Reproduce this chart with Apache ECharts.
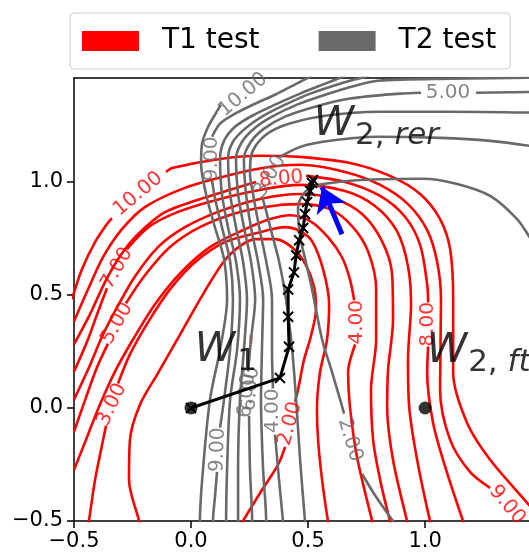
<!DOCTYPE html>
<html><head><meta charset="utf-8">
<script src="https://cdn.jsdelivr.net/npm/echarts@6/dist/echarts.min.js"></script>
<style>html,body{margin:0;padding:0;background:#fff}#c{width:529px;height:559px}</style>
</head><body><div id="c"></div>
<script>
// ---- T1 test (red) contour segments, data coordinates ----
const redL10a = [[-0.509,0.481],[-0.466,0.614],[-0.410,0.734],[-0.359,0.814],[-0.338,0.840]];
const redL10b = [[-0.107,1.044],[-0.081,1.062],[0.124,1.102],[0.295,1.116],[0.466,1.111],[0.679,1.084],[0.850,1.027],[0.979,0.947],[1.064,0.836],[1.107,0.703],[1.120,0.481],[1.120,0.157],[1.179,-0.065],[1.278,-0.229],[1.444,-0.429],[1.513,-0.518]];
const redL9 = [[-0.5,0.383],[-0.440,0.525],[-0.376,0.667],[-0.295,0.791],[-0.197,0.889],[-0.026,0.974],[0.167,1.031],[0.338,1.067],[0.466,1.076],[0.658,1.044],[0.808,0.987],[0.927,0.902],[1.009,0.787],[1.051,0.649],[1.068,0.481],[1.064,0.081],[1.107,-0.141],[1.192,-0.283],[1.278,-0.354]];
const redL8a = [[-0.5,0.281],[-0.432,0.414],[-0.368,0.556],[-0.303,0.672],[-0.231,0.765],[-0.111,0.867],[0.081,0.938],[0.278,1.000]];
const redL8b = [[0.491,1.027],[0.658,1.000],[0.808,0.938],[0.915,0.845],[0.979,0.721],[1.009,0.547],[1.013,0.467]];
const redL8c = [[1.013,0.272],[1.009,0.157],[1.034,-0.065],[1.090,-0.274],[1.162,-0.5],[1.175,-0.540]];
const redL7a = [[-0.5,0.161],[-0.444,0.294],[-0.397,0.427],[-0.359,0.530]];
const redL7b = [[-0.274,0.703],[-0.175,0.805],[-0.047,0.871],[0.124,0.925],[0.316,0.969],[0.466,0.987],[0.658,0.960],[0.786,0.894],[0.880,0.782],[0.927,0.627],[0.940,0.459],[0.927,0.214],[0.932,0.006],[0.966,-0.229],[1.021,-0.5],[1.034,-0.540]];
const redL6 = [[-0.5,0.037],[-0.440,0.170],[-0.380,0.316],[-0.316,0.445],[-0.239,0.583],[-0.141,0.712],[-0.026,0.800],[0.124,0.871],[0.295,0.925],[0.466,0.947],[0.615,0.925],[0.731,0.858],[0.816,0.738],[0.859,0.592],[0.863,0.392],[0.842,0.170],[0.838,0.006],[0.863,-0.229],[0.923,-0.5],[0.936,-0.540]];
const redL5a = [[-0.5,-0.105],[-0.449,0.046],[-0.402,0.179],[-0.355,0.285]];
const redL5b = [[-0.278,0.463],[-0.197,0.587],[-0.090,0.712],[0.038,0.800],[0.209,0.867],[0.380,0.898],[0.466,0.902],[0.594,0.880],[0.688,0.805],[0.756,0.694],[0.791,0.525],[0.791,0.303],[0.769,0.081],[0.778,-0.141],[0.808,-0.318],[0.850,-0.5],[0.863,-0.540]];
const redL4a = [[-0.5,-0.274],[-0.449,-0.141],[-0.389,0.015],[-0.325,0.161],[-0.248,0.303],[-0.154,0.459],[-0.047,0.596],[0.081,0.712],[0.231,0.791],[0.338,0.836],[0.423,0.853],[0.509,0.827],[0.585,0.756],[0.645,0.667],[0.679,0.569],[0.697,0.476]];
const redL4b = [[0.701,0.281],[0.671,0.157],[0.679,0.006],[0.709,-0.216],[0.774,-0.5],[0.786,-0.540]];
const redL3a = [[-0.440,-0.540],[-0.436,-0.5],[-0.410,-0.318],[-0.380,-0.163],[-0.363,-0.078]];
const redL3b = [[-0.312,0.108],[-0.261,0.237],[-0.184,0.379],[-0.090,0.525],[0.017,0.645],[0.145,0.734],[0.295,0.778],[0.402,0.800],[0.466,0.782],[0.517,0.738],[0.564,0.614],[0.590,0.459],[0.581,0.303],[0.551,0.157],[0.538,-0.008],[0.543,-0.145],[0.560,-0.318],[0.585,-0.5],[0.594,-0.540]];
const redL2a = [[-0.214,-0.540],[-0.222,-0.5],[-0.265,-0.318],[-0.261,-0.141],[-0.218,0.015],[-0.145,0.148],[-0.047,0.325],[0.051,0.503],[0.141,0.649],[0.209,0.716],[0.274,0.747],[0.359,0.747],[0.436,0.707],[0.491,0.632],[0.526,0.534],[0.534,0.437],[0.513,0.321],[0.483,0.214],[0.457,0.081],[0.444,0.028]];
const redL2b = [[0.402,-0.172],[0.372,-0.251],[0.303,-0.363],[0.222,-0.5],[0.201,-0.540]];
const redL1 = [[0.256,0.321],[0.256,0.285]];

const t1LabelText = ['10.00','7.00','5.00','3.00','2.00','4.00','8.00','8.00','9.00'];
const t1LabelPos = [[-0.226,0.947],[-0.316,0.618],[-0.316,0.374],[-0.338,0.015],[0.423,-0.069],[0.709,0.379],[1.013,0.370],[0.385,1.013],[1.350,-0.429]];
const t1LabelAngle = [40,60,60,65,75,90,90,5,-50];

// ---- T2 test (gray) contour segments ----
const grayG10 = [[0.038,-0.540],[0.038,-0.5],[0.051,-0.274],[0.081,0.037],[0.124,0.259],[0.154,0.481],[0.141,0.658],[0.098,0.814],[0.064,0.947],[0.043,1.080],[0.047,1.169],[0.073,1.244],[0.107,1.306],[0.128,1.342]];
const grayG9a = [[0.094,-0.540],[0.094,-0.5],[0.103,-0.385],[0.111,-0.283]];
const grayG9b = [[0.124,-0.087],[0.141,0.037],[0.167,0.259],[0.179,0.481],[0.167,0.649],[0.132,0.800],[0.103,0.925],[0.090,1.005]];
const grayG9c = [[0.090,1.200],[0.124,1.258],[0.188,1.302],[0.274,1.346],[0.359,1.386],[0.444,1.431],[0.509,1.466],[0.530,1.480]];
const grayG8 = [[0.150,-0.540],[0.150,-0.5],[0.154,-0.274],[0.167,0.037],[0.197,0.259],[0.209,0.481],[0.192,0.649],[0.158,0.800],[0.132,0.947],[0.124,1.102],[0.141,1.182],[0.188,1.244],[0.261,1.293],[0.359,1.342],[0.466,1.391],[0.573,1.435],[0.658,1.470]];
const grayG7 = [[0.201,-0.540],[0.201,-0.5],[0.201,-0.274],[0.209,0.037],[0.226,0.259],[0.239,0.481],[0.222,0.649],[0.192,0.800],[0.167,0.947],[0.158,1.102],[0.179,1.178],[0.231,1.236],[0.303,1.289],[0.402,1.342],[0.509,1.391],[0.637,1.435],[0.744,1.466],[0.786,1.480]];
const grayG6a = [[0.261,-0.540],[0.261,-0.5],[0.252,-0.274],[0.248,-0.034]];
const grayG6b = [[0.244,0.161],[0.256,0.303],[0.274,0.481],[0.256,0.649],[0.226,0.800],[0.201,0.947],[0.192,1.102],[0.218,1.178],[0.269,1.236],[0.346,1.289],[0.453,1.342],[0.573,1.386],[0.701,1.426],[0.799,1.448],[1.107,1.457],[1.513,1.462]];
const grayG5a = [[0.321,-0.540],[0.321,-0.5],[0.308,-0.274],[0.299,0.037],[0.303,0.259],[0.308,0.481],[0.286,0.649],[0.256,0.800],[0.235,0.947],[0.226,1.102],[0.256,1.178],[0.312,1.236],[0.402,1.289],[0.530,1.333],[0.679,1.369],[0.893,1.391],[0.983,1.395]];
const grayG5b = [[1.218,1.395],[1.513,1.399]];
const grayG4a = [[0.397,-0.540],[0.393,-0.5],[0.376,-0.318],[0.359,-0.118]];
const grayG4b = [[0.350,0.086],[0.346,0.259],[0.346,0.481],[0.321,0.649],[0.291,0.800],[0.265,0.947],[0.252,1.036],[0.256,1.111],[0.282,1.169],[0.338,1.222],[0.432,1.262],[0.573,1.293],[0.799,1.311],[1.107,1.311],[1.513,1.306]];
const grayG3a = [[0.491,-0.540],[0.487,-0.5],[0.466,-0.229],[0.449,0.037],[0.432,0.259],[0.406,0.481],[0.376,0.649],[0.346,0.769],[0.321,0.871],[0.303,0.938]];
const grayG3b = [[0.380,1.111],[0.466,1.155],[0.594,1.182],[0.799,1.200],[1.064,1.195],[1.278,1.182],[1.444,1.160],[1.513,1.146]];
const grayG2a = [[0.893,-0.540],[0.863,-0.5],[0.791,-0.394],[0.731,-0.292]];
const grayG2b = [[0.654,-0.025],[0.637,0.037],[0.603,0.157],[0.560,0.303],[0.517,0.525],[0.491,0.645],[0.466,0.760],[0.457,0.880],[0.474,0.938],[0.509,0.973],[0.564,0.991],[0.722,1.009],[0.991,1.014],[1.137,0.991],[1.278,0.938],[1.393,0.836],[1.444,0.760],[1.491,0.680]];

const t2LabelText = ['10.00','9.00','3.00','5.00','9.00','6.00','6.00','4.00','2.00'];
const t2LabelPos = [[0.222,1.386],[0.090,1.102],[0.338,1.027],[1.098,1.395],[0.115,-0.185],[0.239,0.055],[0.256,0.085],[0.350,-0.012],[0.679,-0.141]];
const t2LabelAngle = [40,90,60,0,88,85,85,90,-73];

// ---- optimisation path, points, arrow ----
const sgdPath = [[0,0],[0.380,0.133],[0.419,0.271],[0.415,0.404],[0.415,0.524],[0.440,0.600],[0.449,0.676],[0.462,0.742],[0.479,0.796],[0.487,0.858],[0.496,0.911],[0.509,0.960],[0.517,0.996],[0.521,1.009]];
const keyPoints = [[0,0],[1,0]];
const arrowCoords = [[0.645,0.769],[0.560,0.978]];

// ---- annotation texts ----
const wMainPos = [[0.103,0.255],[0.611,1.255],[1.094,0.250]];
const wSubText = ['1','2,','2,'];
const wSubItal = ['','rer','ft'];
const wSubPos = [[0.197,0.205],[0.701,1.205],[1.184,0.198]];

// ---- axis ticks ----
const tickValues = [-0.5, 0, 0.5, 1.0];

const RED = '#ff0000', GRAY = '#696969', FONT = 'DejaVu Sans';
const t1Segments = [redL10a,redL10b,redL9,redL8a,redL8b,redL8c,redL7a,redL7b,redL6,redL5a,redL5b,redL4a,redL4b,redL3a,redL3b,redL2a,redL2b,redL1];
const t2Segments = [grayG10,grayG9a,grayG9b,grayG9c,grayG8,grayG7,grayG6a,grayG6b,grayG5a,grayG5b,grayG4a,grayG4b,grayG3a,grayG3b,grayG2a,grayG2b];

const series = [];
t1Segments.forEach(seg => series.push({type:'line', name:'T1 test', data:seg, smooth:0.3, symbol:'none', showSymbol:false,
  lineStyle:{color:RED, width:2.6}, itemStyle:{color:RED}, z:2, silent:true, animation:false}));
t2Segments.forEach(seg => series.push({type:'line', name:'T2 test', data:seg, smooth:0.3, symbol:'none', showSymbol:false,
  lineStyle:{color:GRAY, width:2.6}, itemStyle:{color:GRAY}, z:3, silent:true, animation:false}));

function labelSeries(pos, text, angle, color) {
  return {type:'scatter', symbolSize:1, itemStyle:{color:'rgba(0,0,0,0)'}, z:5, silent:true, animation:false,
    data: pos.map((p,i)=>({value:p, label:{formatter:text[i], rotate:angle[i]}})),
    label:{show:true, position:'inside', align:'center', verticalAlign:'middle', color:color, fontSize:20, fontFamily:FONT}};
}
series.push(labelSeries(t1LabelPos, t1LabelText, t1LabelAngle, RED));
series.push(labelSeries(t2LabelPos, t2LabelText, t2LabelAngle, GRAY));

series.push({type:'line', data:sgdPath, symbol:'path://M0,0L10,10M10,0L0,10', symbolSize:10, showSymbol:true, showAllSymbol:true,
  lineStyle:{color:'#000', width:3}, itemStyle:{color:'rgba(0,0,0,0)', borderColor:'#000', borderWidth:2}, z:6, silent:true, animation:false});
series.push({type:'scatter', data:keyPoints, symbolSize:13, itemStyle:{color:'#000'}, z:7, silent:true, animation:false});
series.push({type:'lines', coordinateSystem:'cartesian2d', data:[{coords:arrowCoords}], symbol:['none','arrow'], symbolSize:24,
  lineStyle:{color:'#0000ff', width:5, opacity:1, curveness:0}, z:8, silent:true, animation:false});
series.push({type:'scatter', symbolSize:1, itemStyle:{color:'rgba(0,0,0,0)'}, z:9, silent:true, animation:false,
  data: wMainPos.map(p=>({value:p})),
  label:{show:true, position:'inside', align:'center', verticalAlign:'middle', formatter:'W', color:'#000', fontSize:41, fontStyle:'italic', fontFamily:FONT}});
series.push({type:'scatter', symbolSize:1, itemStyle:{color:'rgba(0,0,0,0)'}, z:9, silent:true, animation:false,
  data: wSubPos.map((p,i)=>({value:p, label:{formatter: '{n|'+wSubText[i]+'}' + (wSubItal[i] ? '{n| }{i|'+wSubItal[i]+'}' : '')}})),
  label:{show:true, position:'inside', align:'left', verticalAlign:'middle', color:'#000',
    rich:{n:{fontSize:31, fontFamily:FONT, color:'#000'}, i:{fontSize:31, fontFamily:FONT, fontStyle:'italic', color:'#000'}}}});

const fmt = v => (v < 0 ? '\u2212' : '') + Math.abs(v).toFixed(1);
const lineSt = {color:'#000', width:1.5};
const option = {
  animation:false,
  backgroundColor:'#fff',
  grid:{left:74, right:0, top:78, bottom:38},
  legend:{data:[{name:'T1 test', itemStyle:{color:RED}},{name:'T2 test', itemStyle:{color:GRAY}}],
    left:70, top:13, icon:'rect', itemWidth:57, itemHeight:20, itemGap:59, padding:[14,14,14,12],
    borderColor:'#cccccc', borderWidth:1, borderRadius:4, backgroundColor:'#fff', selectedMode:false,
    textStyle:{fontSize:28, fontFamily:FONT, color:'#000', lineHeight:20, padding:[0,0,0,18]}},
  xAxis:[
    {type:'value', min:-0.5, max:1.444, position:'bottom',
      axisLine:{show:true, onZero:false, lineStyle:lineSt},
      axisTick:{show:true, inside:false, length:7, lineStyle:lineSt, customValues:tickValues},
      axisLabel:{fontSize:21, fontFamily:FONT, color:'#000', margin:10, formatter:fmt, customValues:tickValues},
      splitLine:{show:false}},
    {type:'value', min:-0.5, max:1.444, position:'top',
      axisLine:{show:true, onZero:false, lineStyle:lineSt},
      axisTick:{show:false}, axisLabel:{show:false}, splitLine:{show:false}}
  ],
  yAxis:{type:'value', min:-0.5, max:1.46,
    axisLine:{show:true, onZero:false, lineStyle:lineSt},
    axisTick:{show:true, inside:false, length:7, lineStyle:lineSt, customValues:tickValues},
    axisLabel:{fontSize:21, fontFamily:FONT, color:'#000', margin:11, formatter:fmt, customValues:tickValues},
    splitLine:{show:false}},
  series: series
};
const chart = echarts.init(document.getElementById('c'), null, {renderer:'canvas'});
chart.setOption(option);
</script>
</body></html>
